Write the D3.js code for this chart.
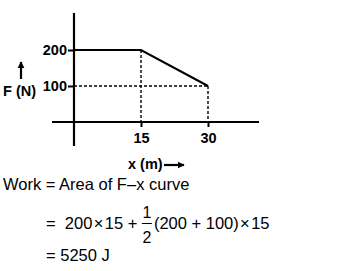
<!DOCTYPE html>
<html><head><meta charset="utf-8">
<script src="https://cdn.jsdelivr.net/npm/d3@7"></script>
<style>
html,body{margin:0;padding:0;background:#fff;}
svg{display:block;}
</style></head>
<body>
<svg id="c" width="350" height="271"></svg>
<script>
// data
const forceX = [0, 15, 30];          // x (m)
const forceF = [200, 200, 100];      // F (N)
const xTicks = [15, 30];
const yTicks = [100, 200];
const xLabel = "x (m)";
const yLabel = "F (N)";
const eqLine1 = "Work = Area of F\u2013x curve";
const eqLine2a = "=  200\u200a\u00d7\u200a15 + ";
const eqFracNum = "1";
const eqFracDen = "2";
const eqLine2b = "(200 + 100)\u200a\u00d7\u200a15";
const eqLine3 = "= 5250 J";

const svg = d3.select("#c");
const x = d3.scaleLinear().domain([0, 30]).range([74, 208]);
const y = d3.scaleLinear().domain([0, 200]).range([122, 50]);
const pts = forceX.map((v, i) => [v, forceF[i]]);

const bold = "'Liberation Sans', Arial, sans-serif";

// dashed guides
const dash = svg.append("g").attr("stroke", "#000").attr("stroke-width", 1.4)
  .attr("stroke-dasharray", "3,2").attr("fill", "none");
pts.slice(1).forEach(p => {
  dash.append("line").attr("x1", x(p[0])).attr("x2", x(p[0]))
    .attr("y1", y(p[1])).attr("y2", y(0));
});
dash.append("line").attr("x1", x(0)).attr("x2", x(forceX[2]))
  .attr("y1", y(forceF[2])).attr("y2", y(forceF[2]));

// axes lines
svg.append("line").attr("x1", x(0)).attr("x2", x(0)).attr("y1", 13).attr("y2", 146)
  .attr("stroke", "#000").attr("stroke-width", 2.2);
svg.append("line").attr("x1", 52).attr("x2", 259).attr("y1", y(0)).attr("y2", y(0))
  .attr("stroke", "#000").attr("stroke-width", 2.2);

// ticks
const ya = svg.append("g").attr("transform", `translate(${x(0)},0)`)
  .call(d3.axisLeft(y).tickValues(yTicks).tickSize(6).tickPadding(1));
ya.select(".domain").remove();
const xa = svg.append("g").attr("transform", `translate(0,${y(0)})`)
  .call(d3.axisBottom(x).tickValues(xTicks).tickSize(5).tickPadding(6));
xa.select(".domain").remove();
[ya, xa].forEach(a => {
  a.selectAll("line").attr("stroke", "#000").attr("stroke-width", 2);
  a.selectAll("text").attr("font-family", bold).attr("font-weight", "bold")
    .attr("font-size", 14.5).attr("fill", "#000");
});

// force curve
svg.append("path").datum(pts)
  .attr("d", d3.line().x(d => x(d[0])).y(d => y(d[1])))
  .attr("fill", "none").attr("stroke", "#000").attr("stroke-width", 2);

// arrow marker
const defs = svg.append("defs");
defs.append("marker").attr("id", "ah").attr("viewBox", "0 0 10 10")
  .attr("refX", 9).attr("refY", 5).attr("markerWidth", 3.2).attr("markerHeight", 3.2)
  .attr("orient", "auto").attr("markerUnits", "strokeWidth")
  .append("path").attr("d", "M0,0L10,5L0,10z").attr("fill", "#000");

// y label + arrow
svg.append("text").attr("x", 3).attr("y", 96).text(yLabel)
  .attr("font-family", bold).attr("font-weight", "bold").attr("font-size", 14.5);
svg.append("line").attr("x1", 21).attr("x2", 21).attr("y1", 79).attr("y2", 62)
  .attr("stroke", "#000").attr("stroke-width", 2.2).attr("marker-end", "url(#ah)");

// x label + arrow
svg.append("text").attr("x", 128).attr("y", 169).text(xLabel)
  .attr("font-family", bold).attr("font-weight", "bold").attr("font-size", 14.5);
svg.append("line").attr("x1", 164).attr("x2", 184).attr("y1", 165).attr("y2", 165)
  .attr("stroke", "#000").attr("stroke-width", 2.2).attr("marker-end", "url(#ah)");

// equations
const fs = 16.5;
const reg = "'Liberation Sans', Arial, sans-serif";
function t(str, xx, yy, size) {
  return svg.append("text").attr("x", xx).attr("y", yy).text(str)
    .attr("font-family", reg).attr("font-size", size || fs).attr("fill", "#000")
    .style("white-space", "pre");
}
t(eqLine1, 3, 190);
const a = t(eqLine2a, 46, 229);
const ax = 46 + a.node().getComputedTextLength();
t(eqFracNum, ax + 5, 218, 16).attr("text-anchor", "middle");
t(eqFracDen, ax + 5, 243, 16).attr("text-anchor", "middle");
svg.append("line").attr("x1", ax).attr("x2", ax + 10).attr("y1", 223.5).attr("y2", 223.5)
  .attr("stroke", "#000").attr("stroke-width", 1);
t(eqLine2b, ax + 12, 229);
t(eqLine3, 46, 261);
</script>
</body></html>
